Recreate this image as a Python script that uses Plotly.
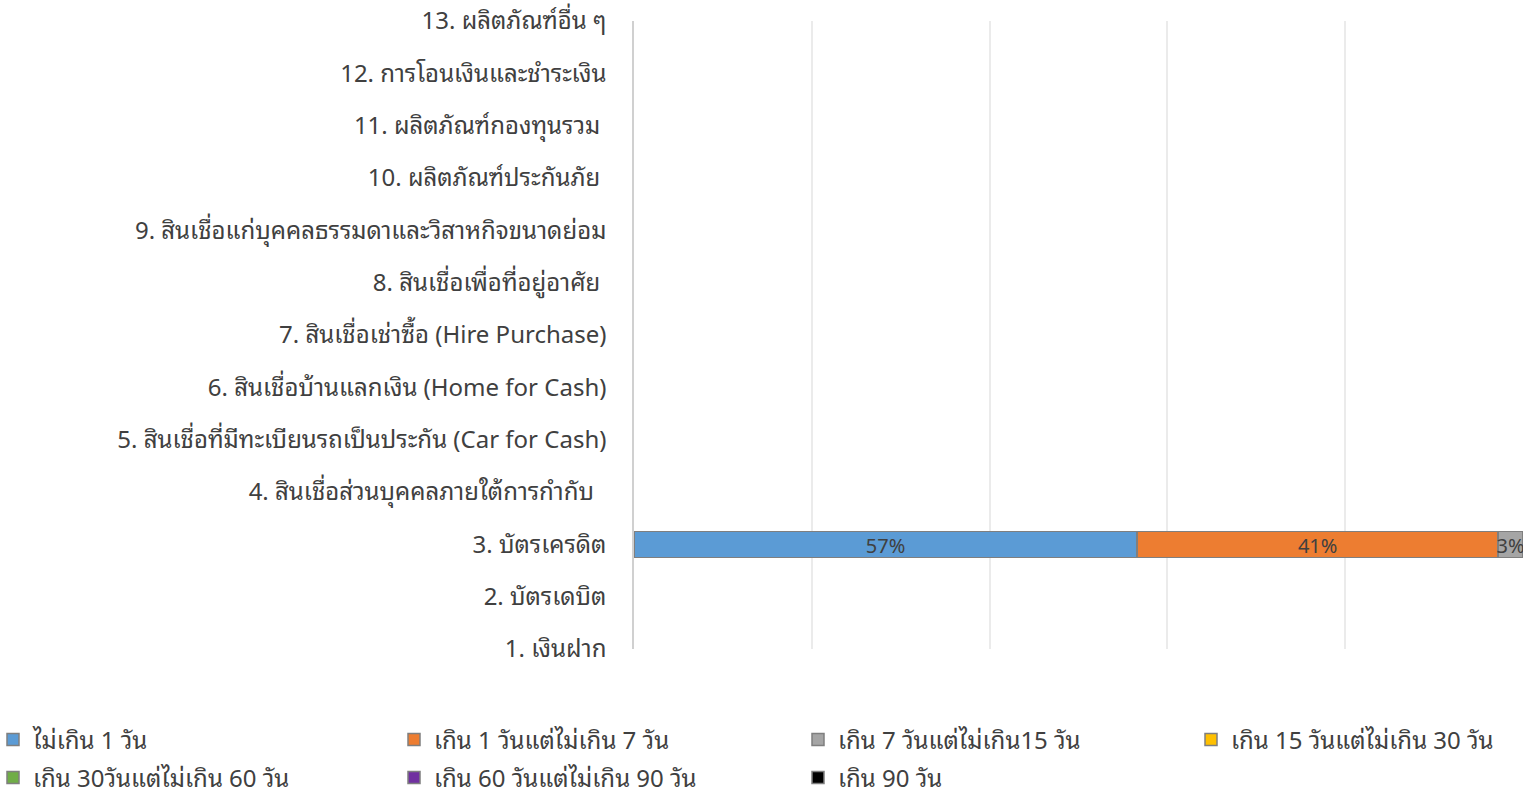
import plotly.graph_objects as go

categories = [
    "1. เงินฝาก",
    "2. บัตรเดบิต",
    "3. บัตรเครดิต",
    "4. สินเชื่อส่วนบุคคลภายใต้การกำกับ\u00a0\u00a0",
    "5. สินเชื่อที่มีทะเบียนรถเป็นประกัน (Car for Cash)",
    "6. สินเชื่อบ้านแลกเงิน (Home for Cash)",
    "7. สินเชื่อเช่าซื้อ (Hire Purchase)",
    "8. สินเชื่อเพื่อที่อยู่อาศัย\u00a0",
    "9. สินเชื่อแก่บุคคลธรรมดาและวิสาหกิจขนาดย่อม",
    "10. ผลิตภัณฑ์ประกันภัย\u00a0",
    "11. ผลิตภัณฑ์กองทุนรวม\u00a0",
    "12. การโอนเงินและชำระเงิน",
    "13. ผลิตภัณฑ์อื่น ๆ",
]

series_names = [
    "ไม่เกิน 1 วัน",
    "เกิน 1 วันแต่ไม่เกิน 7 วัน",
    "เกิน 7 วันแต่ไม่เกิน15 วัน",
    "เกิน 15 วันแต่ไม่เกิน 30 วัน",
    "เกิน 30วันแต่ไม่เกิน 60 วัน",
    "เกิน 60 วันแต่ไม่เกิน 90 วัน",
    "เกิน 90 วัน",
]

N = None
s1 = [N, N, 56.6, N, N, N, N, N, N, N, N, N, N]
s2 = [N, N, 40.6, N, N, N, N, N, N, N, N, N, N]
s3 = [N, N, 2.8, N, N, N, N, N, N, N, N, N, N]
s4 = [N] * 13
s5 = [N] * 13
s6 = [N] * 13
s7 = [N] * 13
series_values = [s1, s2, s3, s4, s5, s6, s7]

colors = ["#5B9BD5", "#ED7D31", "#A5A5A5", "#FFC000", "#70AD47", "#7030A0", "#000000"]

# legend placement in page pixels: left edge x, row centre y
legend_x_px = [-7, 394, 798, 1191, -7, 394, 798]
legend_y_px = [740, 740, 740, 740, 778, 778, 778]

W, H = 1528, 798
ML, MR, MT, MB = 634, 5, 21, 149
PW, PH = W - ML - MR, H - MT - MB
FONT = "Tahoma, 'Noto Sans Thai Looped', Loma, Garuda, 'Noto Sans Thai', 'Noto Sans', 'DejaVu Sans', sans-serif"

ypos = list(range(len(categories)))

fig = go.Figure()
layout_legends = {}
for i, (name, vals, col) in enumerate(zip(series_names, series_values, colors)):
    texts = [("%d%%" % round(v)) if v is not None else "" for v in vals]
    lname = "legend" if i == 0 else "legend%d" % (i + 1)
    fig.add_trace(go.Bar(
        x=vals, y=ypos, orientation="h", name=name,
        marker=dict(color=col, line=dict(color="#7F7F7F", width=1.5)),
        text=texts, textposition="inside", insidetextanchor="middle",
        textfont=dict(size=20, color="#404040", family=FONT),
        width=0.5,
        legend=lname,
        hoverinfo="skip",
    ))
    layout_legends[lname] = dict(
        xref="paper", yref="paper",
        x=(legend_x_px[i] - ML) / PW, xanchor="left",
        y=(H - MB - legend_y_px[i]) / PH, yanchor="middle",
        orientation="h", font=dict(size=24, color="#404040", family=FONT),
        bgcolor="rgba(0,0,0,0)",
    )

fig.update_layout(
    barmode="stack",
    width=W, height=H,
    margin=dict(l=ML, r=MR, t=MT, b=MB, autoexpand=False),
    paper_bgcolor="white", plot_bgcolor="white",
    font=dict(family=FONT, size=24, color="#404040"),
    uniformtext=dict(minsize=20, mode="show"),
    xaxis=dict(range=[0, 100], tickvals=[0, 20, 40, 60, 80, 100], showticklabels=False,
               showgrid=True, gridcolor="#EBEBEB", gridwidth=1.5, zeroline=False,
               showline=False, fixedrange=True),
    yaxis=dict(range=[0, 12], tickvals=ypos, ticktext=categories, showgrid=False,
               zeroline=False, showline=True, linecolor="#D0D0D0", linewidth=1.5,
               ticks="", ticklabelstandoff=21, ticklabeloverflow="allow",
               tickfont=dict(size=24, color="#404040"), fixedrange=True),
    showlegend=True,
    **layout_legends,
)

fig.write_html("out.html", config={"displayModeBar": False},
               post_script="document.body.style.margin='0';document.body.style.overflow='hidden';")
